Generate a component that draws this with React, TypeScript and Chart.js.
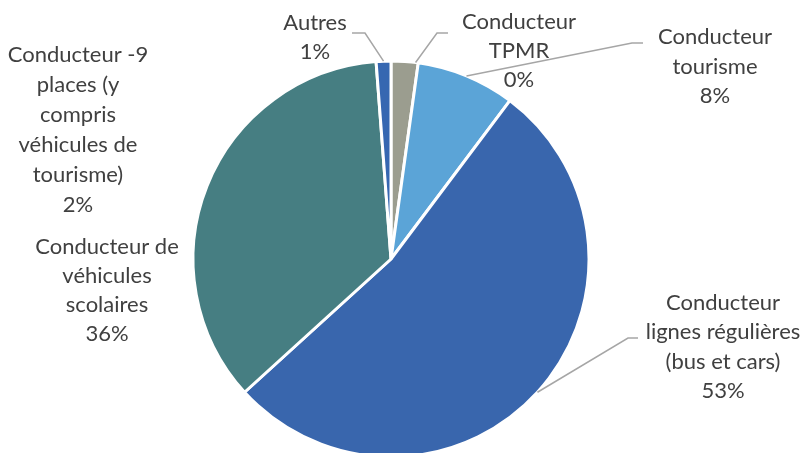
import React, { useEffect, useRef } from "react";
import { Chart, registerables } from "chart.js";

Chart.register(...registerables);

// ---- data ----
const categories = [
  "Conducteur TPMR",
  "Conducteur tourisme",
  "Conducteur lignes régulières (bus et cars)",
  "Conducteur de véhicules scolaires",
  "Autres",
];
const values = [2.2, 8.05, 53.0, 35.55, 1.2];
const sliceColors = ["#9B9D8F", "#5BA4D7", "#3966AD", "#467E82", "#3667B1"];

// displayed data labels (text only)
const labelNames: string[][] = [
  ["Conducteur", "TPMR"],
  ["Conducteur", "tourisme"],
  ["Conducteur", "lignes régulières", "(bus et cars)"],
  ["Conducteur de", "véhicules", "scolaires"],
  ["Autres"],
  ["Conducteur -9", "places (y", "compris", "véhicules de", "tourisme)"],
];
const labelPercents = ["0%", "8%", "53%", "36%", "1%", "2%"];

// label layout: slice index (-1 = no leader), text centre, first line y, leader elbow
type LabelLayout = {
  slice: number;
  cx: number;
  y0: number;
  lh: number;
  elbow?: [number, number, number]; // x start (label side), x end, y
  t?: number; // fraction along slice for leader end
};
const labelLayout: LabelLayout[] = [
  { slice: 0, cx: 519, y0: 22, lh: 29, elbow: [448, 437, 33], t: 0.9 },
  { slice: 1, cx: 715, y0: 37, lh: 29.5, elbow: [643, 632, 43], t: 0.5 },
  { slice: 2, cx: 723, y0: 303, lh: 29.3, elbow: [638, 628, 338], t: 0.5 },
  { slice: 3, cx: 107, y0: 247, lh: 29, t: 0.5 },
  { slice: 4, cx: 315, y0: 23, lh: 29, elbow: [352, 365, 33], t: 0.5 },
  { slice: -1, cx: 78, y0: 55, lh: 30 },
];

const labelPlugin = {
  id: "excelLabels",
  afterDraw(chart: any) {
    const ctx = chart.ctx as CanvasRenderingContext2D;
    const meta = chart.getDatasetMeta(0);
    ctx.save();
    // leader lines
    ctx.strokeStyle = "#A6A6A6";
    ctx.lineWidth = 1.5;
    labelLayout.forEach((l) => {
      if (!l.elbow || l.slice < 0) return;
      const arc = meta.data[l.slice];
      if (!arc) return;
      const p = arc.getProps(["x", "y", "startAngle", "endAngle", "outerRadius"], true);
      const a = p.startAngle + (p.endAngle - p.startAngle) * (l.t ?? 0.5);
      const ex = p.x + Math.cos(a) * p.outerRadius;
      const ey = p.y + Math.sin(a) * p.outerRadius;
      ctx.beginPath();
      ctx.moveTo(l.elbow[0], l.elbow[2]);
      ctx.lineTo(l.elbow[1], l.elbow[2]);
      ctx.lineTo(ex, ey);
      ctx.stroke();
    });
    // texts
    ctx.fillStyle = "#404040";
    ctx.font = "22px Lato";
    ctx.textAlign = "center";
    ctx.textBaseline = "middle";
    labelLayout.forEach((l, i) => {
      const lines = [...labelNames[i], labelPercents[i]];
      lines.forEach((s, k) => {
        ctx.fillText(s, l.cx, l.y0 + k * l.lh);
      });
    });
    ctx.restore();
  },
};

export default function App() {
  const ref = useRef<HTMLCanvasElement | null>(null);
  useEffect(() => {
    if (!ref.current) return;
    const chart = new Chart(ref.current, {
      type: "pie",
      data: {
        labels: categories,
        datasets: [
          {
            data: values,
            backgroundColor: sliceColors,
            borderColor: "#FFFFFF",
            borderWidth: 3,
          },
        ],
      },
      options: {
        responsive: false,
        animation: false,
        radius: 198,
        layout: { padding: { left: 0, right: 22, top: 65, bottom: 0 } },
        plugins: {
          legend: { display: false },
          tooltip: { enabled: false },
          title: { display: false },
        },
      } as any,
      plugins: [labelPlugin],
    });
    return () => chart.destroy();
  }, []);
  return (
    <div
      style={{
        position: "fixed",
        left: 0,
        top: 0,
        width: 804,
        height: 453,
        background: "#FFFFFF",
        overflow: "hidden",
      }}
    >
      <canvas ref={ref} width={804} height={453} style={{ width: 804, height: 453 }} />
    </div>
  );
}
